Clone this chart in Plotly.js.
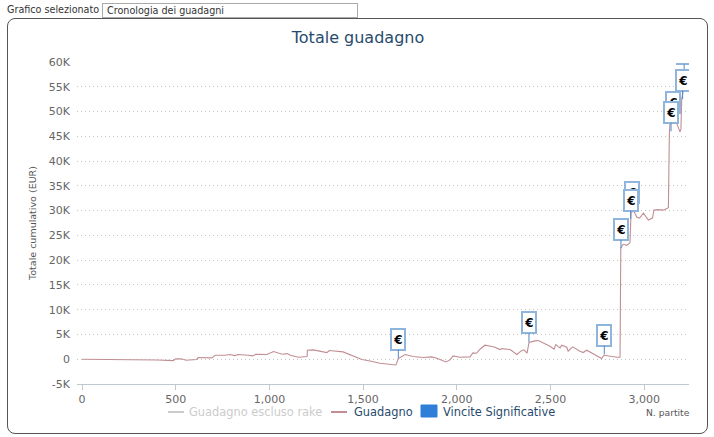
<!DOCTYPE html>
<html>
<head>
<meta charset="utf-8">
<script src="https://cdn.plot.ly/plotly-3.0.1.min.js"></script>
<style>
html,body{margin:0;padding:0;background:#fff;width:714px;height:437px;overflow:hidden;font-family:"DejaVu Sans",sans-serif}
#chart{position:absolute;left:0;top:0;width:714px;height:437px}
#frame{position:absolute;left:7px;top:18px;width:699px;height:414px;border:1px solid #555;border-radius:8px;pointer-events:none}
#lab{position:absolute;left:7px;top:3px;font-size:9.6px;line-height:14px;color:#333}
#sel{position:absolute;left:102px;top:3px;width:250px;height:13px;border:1px solid #aaa;font-size:9.6px;line-height:13px;color:#333;padding-left:4px;background:#fff}
.mask{position:absolute;background:#fff}
</style>
</head>
<body>
<div id="chart"></div>
<div class="mask" style="left:689px;top:56px;width:16px;height:50px"></div>
<div class="mask" style="left:668px;top:40px;width:30px;height:23px"></div>
<div id="frame"></div>
<div id="lab">Grafico selezionato</div>
<div id="sel">Cronologia dei guadagni</div>
<script>
const games = [0,100,200,300,400,487,500,530,555,612,620,692,711,763,790,816,833,886,912,927,987,1022,1068,1095,1112,1154,1201,1203,1234,1307,1320,1393,1466,1494,1537,1563,1590,1675,1688,1724,1767,1820,1866,1894,1942,1964,1980,2017,2070,2086,2105,2124,2150,2187,2204,2230,2241,2284,2321,2343,2358,2375,2385,2417,2435,2497,2519,2528,2551,2560,2587,2594,2618,2657,2674,2693,2737,2773,2785,2807,2853,2865,2871,2875,2888,2907,2924,2930,2946,2960,2975,2996,3022,3044,3052,3075,3102,3129,3134,3140,3160,3178,3191,3196,3200,3207,3212,3230];
const gains = [0,-20,-40,-90,-170,-270,70,80,-200,-70,340,270,800,810,940,740,940,810,670,1010,940,1550,1010,1140,810,400,540,1820,1890,1350,1750,1480,270,-70,-340,-600,-800,-1150,130,950,540,340,470,200,-540,-130,670,400,470,1280,1200,2020,2830,2560,2400,1950,2150,1950,950,1680,1900,1210,3370,3700,3770,2630,2020,2960,2290,2830,2420,1620,2490,1620,1350,1820,950,130,800,670,470,340,470,22400,23200,23000,23500,29800,29800,28700,28500,29500,28100,28500,30100,30200,30100,30600,45000,50000,49000,47100,45900,46500,52500,54000,57800,58500];
const flagGames = [1688,2385,2787,2876,2937,2928,3152,3143,3213,3205];
const flagValues = [200,3500,1000,22400,29800,28300,47900,46000,57800,52500];
const flagLabel = "€";
const yTicks = [-5000,0,5000,10000,15000,20000,25000,30000,35000,40000,45000,50000,55000,60000];
const yLabels = ["-5K","0","5K","10K","15K","20K","25K","30K","35K","40K","45K","50K","55K","60K"];
const xTicks = [0,500,1000,1500,2000,2500,3000];
const xLabels = ["0","500","1,000","1,500","2,000","2,500","3,000"];

const font = '"DejaVu Sans", sans-serif';
const flagAnn = flagGames.map((g,i)=>({
  x:g,y:flagValues[i],xref:'x',yref:'y',text:'<b>'+flagLabel+'</b>',
  font:{family:font,size:12,color:'#000'},
  showarrow:true,arrowhead:0,arrowwidth:1,arrowcolor:'#4f86c8',standoff:0,ax:0,ay:-19,
  bgcolor:'#fff',bordercolor:'#8fb5dd',borderwidth:2,borderpad:0,width:12,height:19,align:'center',valign:'middle'
}));
const pxX = p=>(p-77)/612, pxY = p=>(384-p)/322;
const txt = (x,y,t,c,s,anchor)=>({xref:'paper',yref:'paper',x:pxX(x),y:pxY(y),xanchor:anchor||'left',yanchor:'middle',text:t,showarrow:false,font:{family:font,size:s,color:c},borderpad:0});
</script>
<script>
const layout = {
  width:714,height:437,showlegend:false,
  margin:{l:77,r:25,t:62,b:53},
  paper_bgcolor:'rgba(0,0,0,0)',plot_bgcolor:'rgba(0,0,0,0)',
  title:{text:'Totale guadagno',font:{family:font,size:16,color:'#274b6d'},x:358/714,xanchor:'center',y:1-37/437,yanchor:'middle'},
  xaxis:{range:[-26.7,3239],tickvals:xTicks,ticktext:xLabels,showgrid:false,zeroline:false,showline:true,linecolor:'#c0c8d0',linewidth:1,
    ticks:'outside',ticklen:5,tickcolor:'#c0c8d0',tickfont:{family:font,size:11,color:'#666'}},
  yaxis:{range:[-5000,60000],tickvals:yTicks,ticktext:yLabels,showgrid:true,gridcolor:'#c4c4c4',griddash:'1px,3px',gridwidth:1,zeroline:false,showline:false,ticks:'',
    tickfont:{family:font,size:11,color:'#666'},ticklabelstandoff:6,
    title:{text:'Totale cumulativo (EUR)',font:{family:font,size:9.5,color:'#555'},standoff:10}},
  annotations:flagAnn.concat([
    txt(645,413,'N. partite','#555',9.2),
    txt(188,412,'Guadagno escluso rake','#ccc',11.4),
    txt(353,412,'Guadagno','#274b6d',11.4),
    txt(442,412,'Vincite Significative','#274b6d',11.4)
  ]),
  shapes:[
    {type:'line',xref:'paper',yref:'paper',x0:pxX(168),x1:pxX(184),y0:pxY(412),y1:pxY(412),line:{color:'#ccc',width:2}},
    {type:'line',xref:'paper',yref:'paper',x0:pxX(331),x1:pxX(347),y0:pxY(412),y1:pxY(412),line:{color:'#c28e94',width:2}},
    {type:'rect',xref:'paper',yref:'paper',x0:pxX(421),x1:pxX(437),y0:pxY(405),y1:pxY(417),fillcolor:'#2f7ed8',line:{color:'#2f7ed8',width:1}}
  ]
};
const traces = [
  {type:'scatter',mode:'lines',name:'Guadagno',x:games,y:gains,line:{color:'#c28e94',width:1.1,shape:'linear'},hoverinfo:'skip'}
];
Plotly.newPlot('chart',traces,layout,{displayModeBar:false,staticPlot:true});
</script>
</body>
</html>
